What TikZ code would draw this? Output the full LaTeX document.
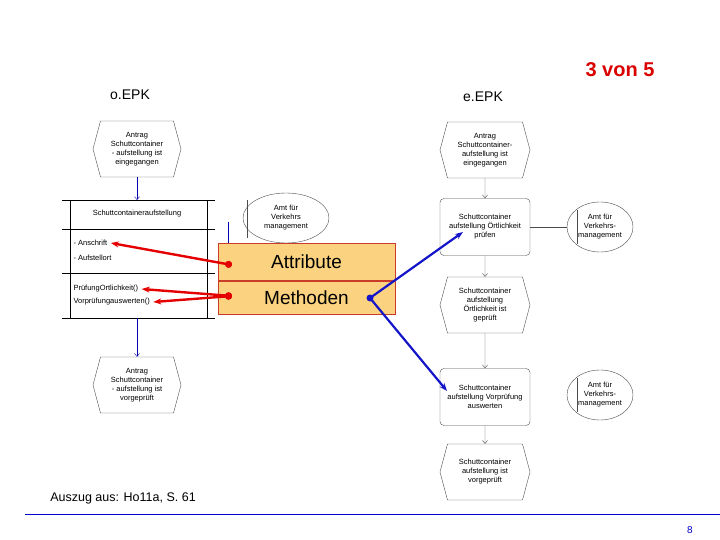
\documentclass[tikz,border=0pt]{standalone}
\usepackage{fontspec}
\setmainfont{Liberation Sans}
\usetikzlibrary{arrows.meta, positioning, shapes.symbols, shapes.geometric}
\definecolor{boxorange}{RGB}{251,210,128}
\definecolor{boxred}{RGB}{200,60,40}
\definecolor{linkblue}{RGB}{20,20,200}

\begin{document}
\begin{tikzpicture}[x=1pt,y=-1pt]
    \tikzstyle{event}=[signal, signal to=west and east, signal pointer angle=150, draw=black!70, minimum width=88pt, minimum height=56pt, inner sep=1pt, align=center, font=\fontsize{7.5}{9}\selectfont]
    \tikzstyle{func}=[draw=black!70, rounded corners=4pt, minimum width=90pt, minimum height=57pt, align=center, font=\fontsize{7.5}{9}\selectfont]
    \tikzstyle{unit}=[ellipse, draw=black!70, minimum width=66pt, minimum height=50pt, align=center, font=\fontsize{7.5}{9}\selectfont, inner sep=0pt]
    \tikzstyle{flow}=[draw=blue!70!black, -{Straight Barb[length=3pt,width=5pt]}]
    \tikzstyle{eflow}=[draw=black!70, -{Straight Barb[length=3pt,width=5pt]}]
    \tikzstyle{redarrow}=[draw=red!90!black, line width=2.4pt, {Circle[length=7pt]}-{Stealth[length=8pt]}]
    \tikzstyle{bluearrow}=[draw=linkblue, line width=2.2pt, -{Stealth[length=8pt]}]

    \useasboundingbox (0,0) rectangle (720,540);

    % titles
    \node (t1) at (130,95) {\fontsize{14}{16}\selectfont o.EPK};
    \node (t2) at (483,97) {\fontsize{14}{16}\selectfont e.EPK};
    \node[text=red!85!black] (t3) at (620,70) {\fontsize{20}{24}\selectfont\bfseries 3 von 5};

    % o.EPK
    \node[event] (E-1) at (137,149) {Antrag\\Schuttcontainer\\- aufstellung ist\\eingegangen};
    \node[event] (E-2) at (137,385) {Antrag\\Schuttcontainer\\- aufstellung ist\\vorgeprüft};
    \draw[black] (62,200) -- (215,200) (62,229) -- (215,229) (62,273) -- (215,273) (62,318) -- (215,318);
    \draw[black] (70,200) -- (70,318) (207,200) -- (207,318);
    \node[font=\fontsize{7.5}{9}\selectfont] (K) at (137,214) {Schuttcontaineraufstellung};
    \node[font=\fontsize{7.5}{9}\selectfont, anchor=west] (A-1) at (70,243) {- Anschrift};
    \node[font=\fontsize{7.5}{9}\selectfont, anchor=west] (A-2) at (70,258) {- Aufstellort};
    \node[font=\fontsize{7.5}{9}\selectfont, anchor=west] (M-1) at (70,289) {PrüfungOrtlichkeit()};
    \node[font=\fontsize{7.5}{9}\selectfont, anchor=west] (M-2) at (70,302) {Vorprüfungauswerten()};
    \coordinate (Ktop) at (137,200);
    \coordinate (Kbot) at (137,318);
    \path[flow] (E-1.south) -- (Ktop);
    \path[flow] (Kbot) -- (E-2.north);
    \node[unit, minimum width=86pt] (U-0) at (286,218) {Amt für\\Verkehrs\\management};
    \draw[black!70] (247,200) -- (247,238);
    \draw[blue!70!black] (228,222) -- (228,245);

    % Attribute / Methoden
    \node[draw=boxred, fill=boxorange, minimum width=177pt, minimum height=37pt, font=\fontsize{19}{22}\selectfont] (attr) at (306.5,262) {Attribute};
    \node[draw=boxred, fill=boxorange, minimum width=177pt, minimum height=33pt, font=\fontsize{19}{22}\selectfont, below=0pt of attr] (meth) {Methoden};
    \coordinate (ra) at (232,265);
    \coordinate (rm) at (232,296);
    \coordinate (bm) at (370,298);
    \path[redarrow] (ra) -- (A-1.east);
    \path[redarrow] (rm) -- (M-1.east);
    \path[redarrow] (rm) -- (M-2.east);

    % e.EPK
    \node[event, minimum width=90pt] (F-1) at (485,150) {Antrag\\Schuttcontainer-\\aufstellung ist\\eingegangen};
    \node[func] (G-1) at (485,227) {Schuttcontainer\\aufstellung Örtlichkeit\\prüfen};
    \node[event, minimum width=90pt] (F-2) at (485,305) {Schuttcontainer\\aufstellung\\Örtlichkeit ist\\geprüft};
    \node[func] (G-2) at (485,397) {Schuttcontainer\\aufstellung Vorprüfung\\auswerten};
    \node[event, minimum width=90pt] (F-3) at (485,472) {Schuttcontainer\\aufstellung ist\\vorgeprüft};
    \node[unit] (U-1) at (600,227) {Amt für\\Verkehrs-\\management};
    \node[unit] (U-2) at (600,395) {Amt für\\Verkehrs-\\management};
    \path[eflow] (F-1) -- (G-1);
    \path[eflow] (G-1) -- (F-2);
    \path[eflow] (F-2) -- (G-2);
    \path[eflow] (G-2) -- (F-3);
    \draw[black!70] (G-1.east) -- (U-1.west);
    \draw[black!70] (577,210) -- (577,244) (577,378) -- (577,412);

    \coordinate (g1) at (463,232);
    \coordinate (g2) at (447,391);
    \fill[linkblue] (bm) circle (3.5pt);
    \path[bluearrow] (bm) -- (g1);
    \path[bluearrow] (bm) -- (g2);

    % footer
    \node (src) at (123,498) {\fontsize{12.5}{14}\selectfont Auszug aus: Ho11a, S. 61};
    \draw[blue!80!black, line width=1pt] (25,514) -- (720,514);
    \node (pg) at (690,530) {\fontsize{10}{12}\selectfont\color{blue!80!black} 8};
\end{tikzpicture}
\end{document}
